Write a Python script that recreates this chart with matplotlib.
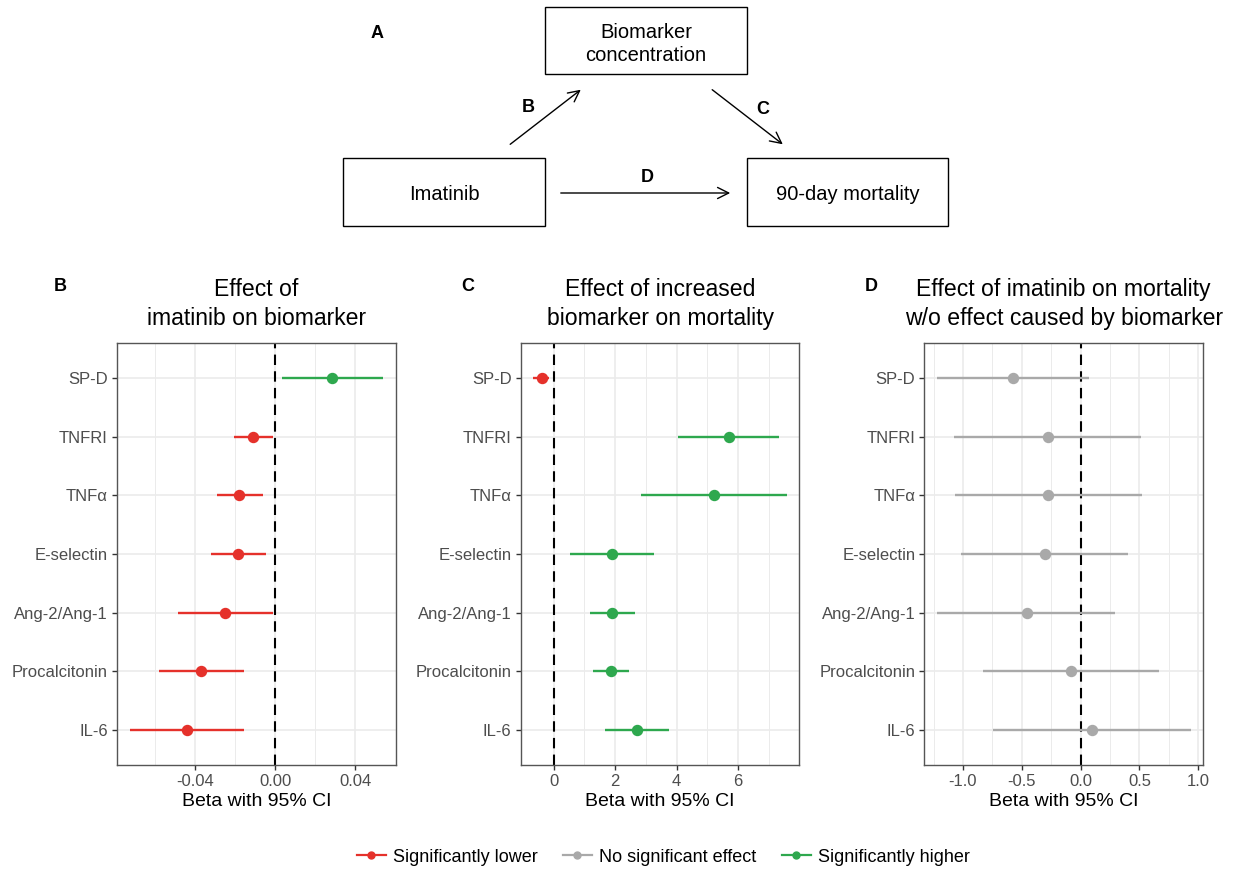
import numpy as np
import matplotlib.pyplot as plt
from matplotlib.lines import Line2D
from matplotlib.patches import Rectangle, FancyArrowPatch

plt.rcParams['font.family'] = ['Liberation Sans', 'DejaVu Sans']

RED = '#E5312B'
GREY = '#A9A9A9'
GREEN = '#2EA84E'

biomarkers = ['SP-D', 'TNFRI', 'TNFα', 'E-selectin', 'Ang-2/Ang-1', 'Procalcitonin', 'IL-6']

# panel B: effect of imatinib on biomarker
b_est = [0.0285, -0.0111, -0.0180, -0.0185, -0.0250, -0.0369, -0.0439]
b_lo = [0.0032, -0.0206, -0.0292, -0.0321, -0.0484, -0.0579, -0.0725]
b_hi = [0.0539, -0.0013, -0.0060, -0.0046, -0.0013, -0.0156, -0.0155]
b_sig = ['higher', 'lower', 'lower', 'lower', 'lower', 'lower', 'lower']

# panel C: effect of increased biomarker on mortality
c_est = [-0.39, 5.69, 5.21, 1.89, 1.91, 1.85, 2.70]
c_lo = [-0.66, 4.03, 2.85, 0.54, 1.18, 1.29, 1.66]
c_hi = [-0.15, 7.34, 7.60, 3.27, 2.64, 2.44, 3.74]
c_sig = ['lower', 'higher', 'higher', 'higher', 'higher', 'higher', 'higher']

# panel D: direct effect of imatinib on mortality
d_est = [-0.575, -0.280, -0.275, -0.306, -0.459, -0.080, 0.093]
d_lo = [-1.224, -1.076, -1.068, -1.017, -1.218, -0.830, -0.748]
d_hi = [0.070, 0.512, 0.518, 0.405, 0.294, 0.668, 0.935]
d_sig = ['none'] * 7

colours = {'lower': RED, 'none': GREY, 'higher': GREEN}
legend_labels = ['Significantly lower', 'No significant effect', 'Significantly higher']

fig = plt.figure(figsize=(12.42, 8.69), dpi=100)

# ---- diagram (panel A), drawn in pixel coordinates of the figure
dax = fig.add_axes([0, 0, 1, 1])
dax.set_xlim(0, 1242)
dax.set_ylim(869, 0)
dax.axis('off')
dax.set_zorder(-1)

boxes = [(545, 7, 202, 67, 'Biomarker\nconcentration', 44),
         (343, 158, 202, 68, 'Imatinib', 194),
         (747, 158, 201, 68, '90-day mortality', 194)]
for x0, y0, w, h, txt, ty in boxes:
    dax.add_patch(Rectangle((x0, y0), w, h, fill=False, ec='black', lw=1.0))
    dax.text(x0 + w / 2, ty, txt, ha='center', va='center', fontsize=14.5,
             linespacing=1.3)

for (x1, y1), (x2, y2) in [((508, 146), (583, 88)), ((710, 88), (785, 146)),
                           ((558, 193), (733, 193))]:
    dax.add_patch(FancyArrowPatch((x1, y1), (x2, y2), arrowstyle='->,head_length=8,head_width=4',
                                  color='black', lw=1.0, mutation_scale=1))

for x, y, s in [(377, 33, 'A'), (528, 108, 'B'), (763, 110, 'C'), (647, 177, 'D')]:
    dax.text(x, y, s, ha='center', va='center', fontsize=13, fontweight='bold')

# ---- forest panels
panels = [
    (0.0942, b_est, b_lo, b_hi, b_sig, (-0.079, 0.0602), [-0.04, 0.0, 0.04],
     ['-0.04', '0.00', '0.04'], [-0.06, -0.02, 0.02], 'Effect of\nimatinib on biomarker', 'B', 60),
    (0.4192, c_est, c_lo, c_hi, c_sig, (-1.07, 7.99), [0, 2, 4, 6],
     ['0', '2', '4', '6'], [1, 3, 5, 7], 'Effect of increased\nbiomarker on mortality', 'C', 468),
    (0.7442, d_est, d_lo, d_hi, d_sig, (-1.329, 1.042), [-1.0, -0.5, 0.0, 0.5, 1.0],
     ['-1.0', '-0.5', '0.0', '0.5', '1.0'], [-1.25, -0.75, -0.25, 0.25, 0.75],
     'Effect of imatinib on mortality\nw/o effect caused by biomarker', 'D', 871),
]

ypos = np.arange(len(biomarkers))[::-1]

for left, est, lo, hi, sig, xlim, ticks, ticklabels, minor, title, letter, lx in panels:
    ax = fig.add_axes([left, 0.1197, 0.2245, 0.4856])
    ax.set_xlim(*xlim)
    ax.set_ylim(-0.6, len(biomarkers) - 0.4)
    ax.set_xticks(ticks)
    ax.set_xticklabels(ticklabels)
    ax.set_xticks(minor, minor=True)
    ax.set_yticks(ypos)
    ax.set_yticklabels(biomarkers)
    ax.grid(True, which='major', color='#EBEBEB', lw=1.2, zorder=0)
    ax.grid(True, which='minor', axis='x', color='#EBEBEB', lw=0.7, zorder=0)
    ax.set_axisbelow(True)
    for sp in ax.spines.values():
        sp.set_color('#555555')
        sp.set_linewidth(1.0)
    ax.tick_params(which='major', length=3.5, width=1.0, color='#333333',
                   labelcolor='#4D4D4D', labelsize=12, pad=3)
    ax.tick_params(which='minor', length=0)
    ax.axvline(0, color='black', ls=(0, (5, 3)), lw=1.5, zorder=2)
    for i, y in enumerate(ypos):
        col = colours[sig[i]]
        ax.plot([lo[i], hi[i]], [y, y], color=col, lw=1.7, zorder=3, solid_capstyle='butt')
        ax.plot(est[i], y, 'o', color=col, ms=7.2, zorder=4)
    ax.set_xlabel('Beta with 95% CI', fontsize=14, labelpad=3)
    ax.set_title(title, fontsize=16.6, linespacing=1.35, pad=13)
    fig.text(lx / 1242, 1 - 287 / 869, letter, fontsize=13, fontweight='bold',
             ha='center', va='center')

handles = [Line2D([], [], color=colours[k], lw=1.6, marker='o', ms=5)
           for k in ['lower', 'none', 'higher']]
fig.legend(handles, legend_labels, loc='center', bbox_to_anchor=(0.534, 1 - 857 / 869),
           ncol=3, frameon=False, fontsize=13, handlelength=1.6, handletextpad=0.4,
           columnspacing=1.4)

fig.savefig('out.png', dpi=100)
